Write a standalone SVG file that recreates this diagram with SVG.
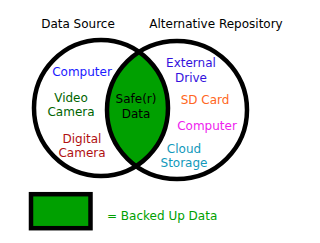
<svg xmlns="http://www.w3.org/2000/svg" width="320" height="243" viewBox="0 0 320 243">
<style>
text{font-family:"DejaVu Sans",Verdana,sans-serif;font-size:12px;text-anchor:middle}
.ring{fill:none;stroke:#000;stroke-width:4.5}
</style>
<defs>
<clipPath id="clipL"><ellipse cx="101" cy="108" rx="67" ry="68"/></clipPath>
</defs>
<rect width="320" height="243" fill="#fff"/>
<g id="lens">
<ellipse cx="177" cy="110" rx="70" ry="69" fill="#00a000" clip-path="url(#clipL)"/>
</g>
<g id="source">
<ellipse class="ring" cx="101" cy="108" rx="67" ry="68"/>
<text x="78" y="28">Data Source</text>
</g>
<g id="repository">
<ellipse class="ring" cx="177" cy="110" rx="70" ry="69"/>
<text x="216" y="28">Alternative Repository</text>
</g>
<g id="items">
<text x="82" y="76" fill="#1a1aff">Computer</text>
<text x="71" y="102" fill="#006400">Video</text>
<text x="71" y="116" fill="#006400">Camera</text>
<text x="82" y="143" fill="#b01010">Digital</text>
<text x="82" y="157" fill="#b01010">Camera</text>
<text x="136" y="103" fill="#000">Safe(r)</text>
<text x="136" y="118" fill="#000">Data</text>
<text x="191" y="67" fill="#3311dd">External</text>
<text x="191" y="82" fill="#3311dd">Drive</text>
<text x="205" y="104" fill="#ff6622">SD Card</text>
<text x="207" y="130" fill="#ee22ee">Computer</text>
<text x="184" y="153" fill="#1199bb">Cloud</text>
<text x="184" y="167" fill="#1199bb">Storage</text>
</g>
<g id="legend">
<rect x="31" y="194.2" width="59.5" height="34" fill="#00a000" stroke="#000" stroke-width="4.5"/>
<text x="107" y="220" fill="#00a000" style="text-anchor:start">= Backed Up Data</text>
</g>
</svg>
